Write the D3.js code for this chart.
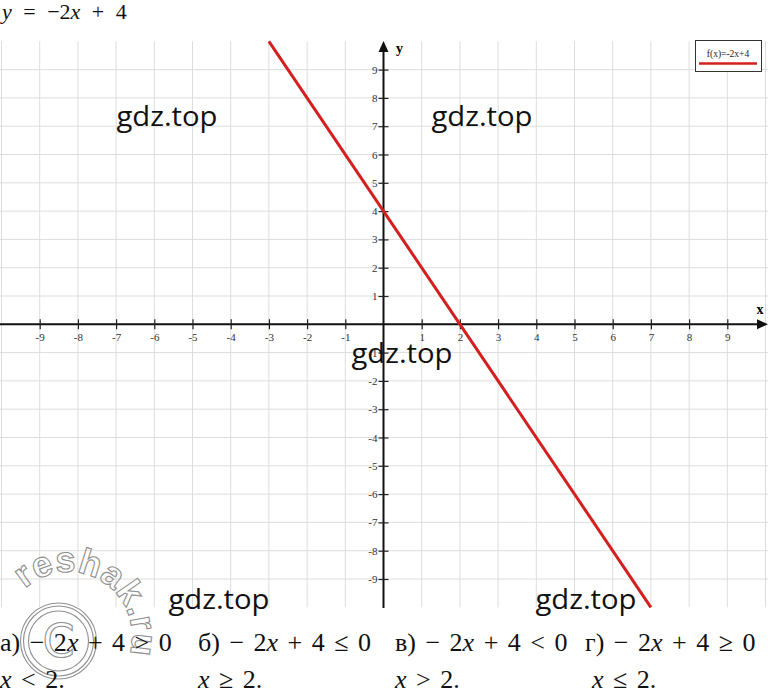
<!DOCTYPE html>
<html>
<head>
<meta charset="utf-8">
<script src="https://cdn.jsdelivr.net/npm/d3@7"></script>
<style>
  html, body { margin: 0; padding: 0; background: #fff; }
  svg { display: block; }
</style>
</head>
<body>
<svg id="chart" width="768" height="694"></svg>
<script>
// ---------- data ----------
const titleParts = ["y", " = −2", "x", " + 4"];
const legendLabel = "f(x)=-2x+4";
const xTickValues = [-9, -8, -7, -6, -5, -4, -3, -2, -1, 1, 2, 3, 4, 5, 6, 7, 8, 9];
const yTickValues = [-9, -8, -7, -6, -5, -4, -3, -2, -1, 1, 2, 3, 4, 5, 6, 7, 8, 9];
const xGridValues = [-10, -9, -8, -7, -6, -5, -4, -3, -2, -1, 0, 1, 2, 3, 4, 5, 6, 7, 8, 9, 10];
const yGridValues = [-9, -8, -7, -6, -5, -4, -3, -2, -1, 0, 1, 2, 3, 4, 5, 6, 7, 8, 9];
const lineX = [-3, 7];
const lineY = [10, -10];           // y = -2x + 4 at the ends
const problems = ["а) − 2x + 4 > 0", "б) − 2x + 4 ≤ 0", "в) − 2x + 4 < 0", "г) − 2x + 4 ≥ 0"];
const solutions = ["x < 2.", "x ≥ 2.", "x > 2.", "x ≤ 2."];
const watermarkText = "gdz.top";
const arcMark = "reshak.ru";

// ---------- layout ----------
const W = 768, H = 694;
const svg = d3.select("#chart");
const x = d3.scaleLinear().domain([-10, 10]).range([1.5, 765.5]);
const y = d3.scaleLinear().domain([-10, 10]).range([607.3, 41.3]);
const serif = "Liberation Serif, Times New Roman, serif";

// grid
const grid = svg.append("g").attr("stroke", "#dedede").attr("stroke-width", 1);
grid.selectAll("line.v").data(xGridValues).join("line").attr("class", "v")
  .attr("x1", d => x(d)).attr("x2", d => x(d))
  .attr("y1", y(10)).attr("y2", y(-10));
grid.selectAll("line.h").data(yGridValues.filter(d => d !== 0)).join("line").attr("class", "h")
  .attr("x1", 0).attr("x2", W)
  .attr("y1", d => y(d)).attr("y2", d => y(d));

// reshak watermark (outlined arc text + copyright circle)
const wm = svg.append("g").attr("fill", "none").attr("stroke", "#8f8f8f").attr("stroke-width", 1.1);
const cc = [58.5, 641];
wm.append("circle").attr("cx", cc[0]).attr("cy", cc[1]).attr("r", 38);
wm.append("circle").attr("cx", cc[0]).attr("cy", cc[1]).attr("r", 35);
wm.append("circle").attr("cx", cc[0]).attr("cy", cc[1]).attr("r", 30);
wm.append("text").attr("x", cc[0]).attr("y", cc[1] + 16).attr("text-anchor", "middle")
  .attr("font-family", "DejaVu Sans, sans-serif").attr("font-size", 46).text("C");
const arcC = [68, 636], arcR = 64;
const p = d3.path();
p.arc(arcC[0], arcC[1], arcR, -136 * Math.PI / 180, 14 * Math.PI / 180, false);
svg.append("defs").append("path").attr("id", "arcPath").attr("d", p.toString());
wm.append("text").attr("font-family", "Liberation Sans, Arial, sans-serif").attr("font-size", 36)
  .attr("font-weight", "bold").attr("letter-spacing", 0.5)
  .append("textPath").attr("href", "#arcPath").attr("startOffset", 4).text(arcMark);

// axes
const axes = svg.append("g");
axes.append("line").attr("x1", 0).attr("x2", 760).attr("y1", y(0)).attr("y2", y(0))
  .attr("stroke", "#111").attr("stroke-width", 2);
axes.append("path").attr("d", `M${768},${y(0)} L${757},${y(0) - 5} L${757},${y(0) + 5} Z`).attr("fill", "#111");
axes.append("line").attr("x1", x(0)).attr("x2", x(0)).attr("y1", 48).attr("y2", 608)
  .attr("stroke", "#111").attr("stroke-width", 2);
axes.append("path").attr("d", `M${x(0)},${41} L${x(0) - 5},${52} L${x(0) + 5},${52} Z`).attr("fill", "#111");

// x ticks
const xt = axes.append("g").attr("transform", `translate(0,${y(0)})`)
  .call(d3.axisBottom(x).tickValues(xTickValues).tickSize(5).tickFormat(d => String(d)));
xt.attr("font-family", serif);
xt.select(".domain").remove();
xt.selectAll(".tick line").attr("y1", -5).attr("y2", 5).attr("stroke", "#222").attr("stroke-width", 1.2);
xt.selectAll(".tick text").attr("y", 9).attr("font-family", serif).attr("font-size", 11).attr("fill", "#333");

// y ticks
const yt = axes.append("g").attr("transform", `translate(${x(0)},0)`)
  .call(d3.axisLeft(y).tickValues(yTickValues).tickSize(5).tickFormat(d => String(d)));
yt.attr("font-family", serif);
yt.select(".domain").remove();
yt.selectAll(".tick line").attr("x1", -5).attr("x2", 5).attr("stroke", "#222").attr("stroke-width", 1.2);
yt.selectAll(".tick text").attr("x", -6).attr("font-family", serif).attr("font-size", 11).attr("fill", "#333");

axes.append("text").attr("x", 760).attr("y", y(0) - 10).attr("text-anchor", "middle")
  .attr("font-family", serif).attr("font-weight", "bold").attr("font-size", 14).text("x");
axes.append("text").attr("x", x(0) + 16).attr("y", 53).attr("text-anchor", "middle")
  .attr("font-family", serif).attr("font-weight", "bold").attr("font-size", 14).text("y");

// red line
const lineData = lineX.map((d, i) => [d, lineY[i]]);
svg.append("path").datum(lineData)
  .attr("d", d3.line().x(d => x(d[0])).y(d => y(d[1])))
  .attr("stroke", "#d41f1f").attr("stroke-width", 3).attr("fill", "none");

// legend
const lg = svg.append("g");
lg.append("rect").attr("x", 695.5).attr("y", 40.5).attr("width", 66).attr("height", 31)
  .attr("fill", "#fff").attr("stroke", "#333").attr("stroke-width", 1);
lg.append("text").attr("x", 728).attr("y", 57).attr("text-anchor", "middle")
  .attr("font-family", serif).attr("font-size", 9.5).attr("fill", "#222").text(legendLabel);
lg.append("line").attr("x1", 699).attr("x2", 757).attr("y1", 63.5).attr("y2", 63.5)
  .attr("stroke", "#d41f1f").attr("stroke-width", 2.5);

// title
const tt = svg.append("text").attr("x", 2).attr("y", 19).attr("font-family", serif).attr("font-size", 22)
  .attr("fill", "#111").attr("word-spacing", 6);
titleParts.forEach(s => {
  tt.append("tspan").attr("font-style", (s === "x" || s === "y") ? "italic" : "normal").text(s);
});

// bottom formulas
function mathText(g, str, xx, yy) {
  const t = g.append("text").attr("x", xx).attr("y", yy).attr("font-family", serif)
    .attr("font-size", 26).attr("fill", "#111").attr("word-spacing", 3);
  const parts = str.split(/(x)/);
  parts.forEach(s => { if (s.length) t.append("tspan").attr("font-style", s === "x" ? "italic" : "normal").text(s); });
}
const colX = [0, 198, 395, 585];
const rowG = svg.append("g");
problems.forEach((s, i) => mathText(rowG, s, colX[i], 651));
solutions.forEach((s, i) => mathText(rowG, s, colX[i] + (i === 3 ? 7 : 0), 688));

// gdz watermarks
const gdzPos = [[167, 126], [482, 126], [402, 363], [219, 609], [586, 609]];
svg.append("g").selectAll("text").data(gdzPos).join("text")
  .attr("x", d => d[0]).attr("y", d => d[1]).attr("text-anchor", "middle")
  .attr("font-family", "Open Sans, sans-serif").attr("font-size", 28)
  .attr("textLength", 101).attr("lengthAdjust", "spacingAndGlyphs")
  .attr("fill", "#111").text(watermarkText);
</script>
</body>
</html>
